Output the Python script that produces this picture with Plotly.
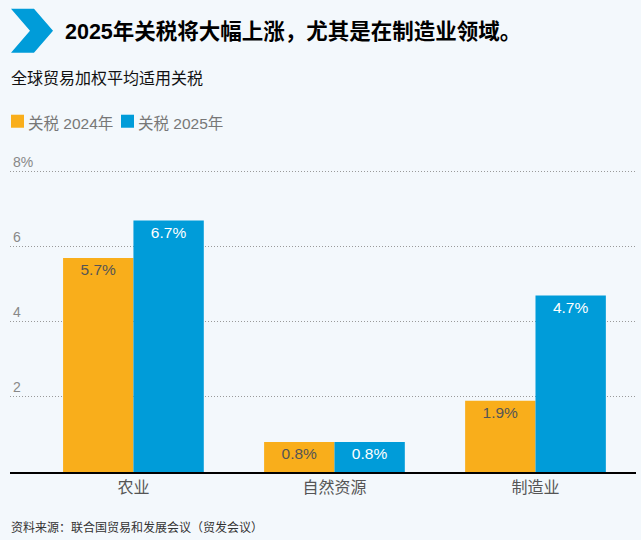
import plotly.graph_objects as go

categories = ["农业", "自然资源", "制造业"]
series_names = ["关税 2024年", "关税 2025年"]
tariff_2024 = [5.7, 0.8, 1.9]
tariff_2025 = [6.7, 0.8, 4.7]
y_tickvals = [2, 4, 6, 8]
y_ticktext = ["2", "4", "6", "8%"]

title_text = "2025年关税将大幅上涨，尤其是在制造业领域。"
subtitle_text = "全球贸易加权平均适用关税"
source_text = "资料来源：联合国贸易和发展会议（贸发会议）"

orange = "#F9AE1B"
blue = "#009CD9"
bg = "#F3F8FC"
font_main = "Liberation Sans Narrow, Liberation Sans, Noto Sans CJK SC, sans-serif"
font_cjk = "Liberation Sans, Noto Sans CJK SC, sans-serif"

W, H = 641, 540
Y_TOP = 8.5
# 8 must sit at pixel 172, 0 at pixel 472
L, R, B = 10, 5, 68
T = H - B - 300 * Y_TOP / 8


def px(x, y):
    # pixel position -> paper coordinates
    return (x - L) / (W - L - R), (H - B - y) / (H - T - B)


fig = go.Figure()
for name, vals, col, tcol in [
    (series_names[0], tariff_2024, orange, "#555555"),
    (series_names[1], tariff_2025, blue, "#FFFFFF"),
]:
    fig.add_trace(go.Bar(
        x=categories,
        y=vals,
        name=name,
        marker=dict(color=col, line=dict(width=0)),
        text=["{:.1f}%".format(v) for v in vals],
        textposition="inside",
        insidetextanchor="end",
        textfont=dict(family=font_main, size=15.5, color=tcol),
        showlegend=False,
    ))

# chevron logo
pts = [(11, 9), (34, 9), (53, 31), (34, 53), (11, 53), (30, 31)]
path = "M " + " L ".join("{:.4f},{:.4f}".format(*px(a, b)) for a, b in pts) + " Z"
shapes = [dict(type="path", xref="paper", yref="paper", path=path,
               fillcolor=blue, line=dict(width=0))]

annotations = []
x0, y0 = px(63, 32)
annotations.append(dict(text="<b>" + title_text + "</b>", xref="paper", yref="paper",
                        x=x0, y=y0, xanchor="left", yanchor="middle", showarrow=False,
                        font=dict(family=font_cjk, size=21.5, color="#000000")))
x0, y0 = px(9, 79)
annotations.append(dict(text=subtitle_text, xref="paper", yref="paper",
                        x=x0, y=y0, xanchor="left", yanchor="middle", showarrow=False,
                        font=dict(family=font_cjk, size=16, color="#111111")))
x0, y0 = px(9, 527)
annotations.append(dict(text=source_text, xref="paper", yref="paper",
                        x=x0, y=y0, xanchor="left", yanchor="middle", showarrow=False,
                        font=dict(family=font_cjk, size=12, color="#333333")))

# legend
for name, col, sx in [(series_names[0], orange, 11), (series_names[1], blue, 121)]:
    a0, b0 = px(sx, 115)
    a1, b1 = px(sx + 13, 128)
    shapes.append(dict(type="rect", xref="paper", yref="paper", x0=a0, x1=a1, y0=b1, y1=b0,
                       fillcolor=col, line=dict(width=0)))
    tx, ty = px(sx + 15, 124)
    annotations.append(dict(text=name, xref="paper", yref="paper", x=tx, y=ty,
                            xanchor="left", yanchor="middle", showarrow=False,
                            font=dict(family=font_main, size=15.5, color="#777777")))

fig.update_layout(
    width=W, height=H,
    margin=dict(l=L, r=R, t=T, b=B, pad=0),
    paper_bgcolor=bg, plot_bgcolor=bg,
    barmode="group", bargap=0.30, bargroupgap=0,
    shapes=shapes, annotations=annotations,
    xaxis=dict(
        range=[-0.614, 2.50],
        showline=True, linecolor="#000000", linewidth=1.5,
        showgrid=False, ticks="", fixedrange=True,
        tickfont=dict(family=font_cjk, size=16, color="#555555"),
    ),
    yaxis=dict(
        range=[0, Y_TOP],
        tickvals=y_tickvals, ticktext=y_ticktext,
        ticklabelposition="inside top",
        showgrid=True, gridcolor="#9A9A9A", gridwidth=1, griddash="1px,2px",
        zeroline=False, showline=False, ticks="", fixedrange=True,
        tickfont=dict(family=font_main, size=14, color="#888888"),
    ),
)

fig.write_html("out.html", config={"displayModeBar": False},
               post_script="document.body.style.margin='0';")
